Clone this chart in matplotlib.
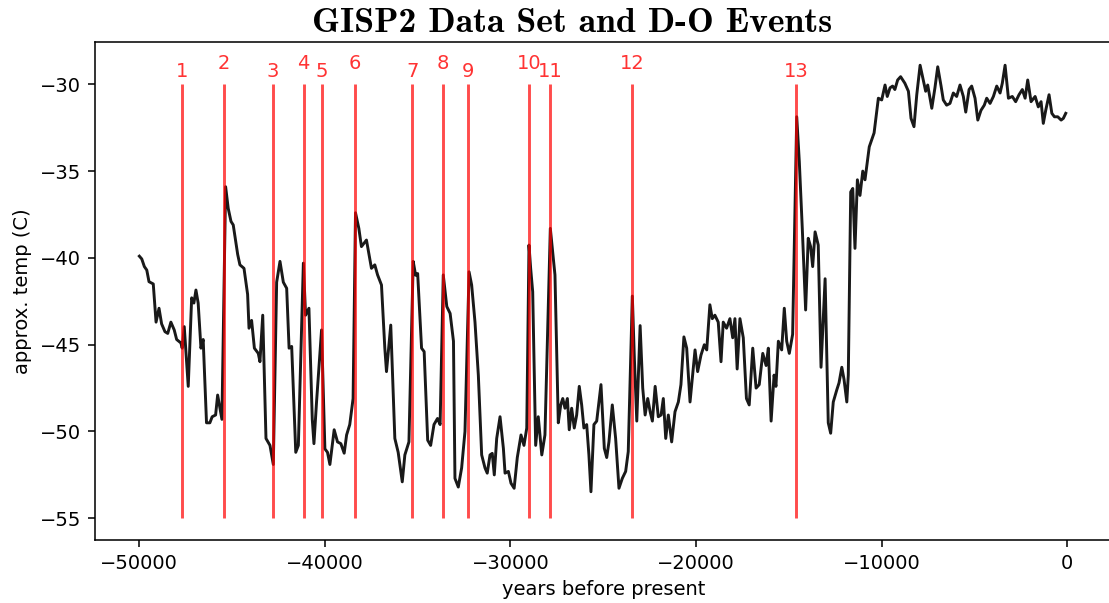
import matplotlib as mpl
mpl.use("Agg")
import matplotlib.pyplot as plt

# GISP2 temperature trace (years before present, deg C)
years = [
    -50000, -49870, -49730, -49600, -49480, -49250, -49100, -48940, -48800, -48620,
    -48470, -48300, -48120, -47990, -47760, -47690, -47580, -47365, -47180, -47060,
    -46950, -46830, -46680, -46560, -46380, -46200, -46075, -45890, -45780, -45550,
    -45350, -45210, -45060, -44940, -44700, -44580, -44360, -44165, -44090, -43950,
    -43800, -43590, -43500, -43350, -43175, -42960, -42780, -42600, -42420, -42240,
    -42060,
    -41930, -41790, -41570, -41430, -41160, -41040, -40860, -40680, -40590, -40450,
    -40180, -40000, -39860, -39730, -39500, -39320, -39140, -38960, -38830, -38660,
    -38480, -38350, -38170, -38030, -37760, -37490, -37310, -37160, -36950, -36770,
    -36680, -36450, -36230, -36050, -35830, -35690, -35470, -35240, -35110, -35000,
    -34790, -34650, -34460, -34300, -34120, -33930, -33790, -33620,
    -33430, -33250, -33070, -32990, -32810, -32630, -32450, -32230, -32090, -31910,
    -31730, -31550, -31370, -31250, -31100, -30980, -30870, -30740, -30560, -30380,
    -30290, -30110, -29970, -29800, -29630, -29430, -29270, -29120, -29000, -28910,
    -28800, -28640, -28500, -28310, -28140, -27850, -27600, -27420, -27290, -27180,
    -27060, -26930, -26830, -26700, -26560, -26430, -26290, -26160, -26040, -25890,
    -25770, -25660, -25500, -25350,
    -25120, -24940, -24810, -24690, -24510, -24330, -24150, -23970, -23790, -23650,
    -23430, -23320, -23190, -23010, -22870, -22740, -22600, -22470, -22350, -22200,
    -22030, -21880, -21760, -21630, -21490, -21310, -21130, -20950, -20810, -20650,
    -20500, -20320, -20180, -20050, -19910, -19730, -19550, -19420, -19250, -19120,
    -18980, -18800, -18650, -18530, -18350, -18170, -18020, -17900, -17780, -17630,
    -17450, -17280, -17130,
    -16940, -16760, -16590, -16400, -16220, -16100, -15950, -15790, -15690, -15560,
    -15380, -15240, -15110, -14970, -14790, -14570, -14430, -14270, -14090, -13950,
    -13820, -13710, -13580, -13410, -13260, -13040, -12870, -12740, -12600, -12410,
    -12290, -12140, -12020, -11870, -11790, -11660, -11550, -11430, -11300, -11160,
    -11010, -10890, -10660, -10400, -10170, -9990, -9810, -9690, -9540, -9400,
    -9280, -9130, -8970, -8740,
    -8550, -8410, -8250, -8100, -7920, -7750, -7620, -7510, -7290, -7120,
    -6970, -6790, -6670, -6490, -6310, -6130, -5950, -5770, -5590, -5460,
    -5280, -5140, -4960, -4810, -4640, -4460, -4330, -4150, -3970, -3790,
    -3610, -3490, -3340, -3160, -2950, -2770, -2590, -2410, -2260, -2120,
    -1940, -1720, -1550, -1400, -1280, -1150, -970, -820, -680, -500,
    -320, -200, -70,
]
temps = [
    -39.9, -40.06, -40.5, -40.7, -41.37, -41.5, -43.7, -42.9, -43.8, -44.25,
    -44.35, -43.7, -44.15, -44.7, -44.9, -45.2, -43.96, -47.4, -42.3, -42.6,
    -41.85, -42.6, -45.2, -44.7, -49.5, -49.5, -49.15, -49.05, -47.9, -49.3,
    -35.9, -37.15, -37.9, -38.1, -39.8, -40.4, -40.6, -42.1, -44.05, -43.6,
    -45.2, -45.5, -45.98, -43.3, -50.4, -50.8, -51.9, -41.4, -40.2, -41.4,
    -41.75,
    -45.2, -45.1, -51.2, -50.8, -40.3, -43.3, -42.9, -49.3, -50.7, -48.3,
    -44.15, -51.0, -51.2, -51.9, -49.9, -50.6, -50.7, -51.25, -50.2, -49.6,
    -48.1, -37.4, -38.3, -39.35, -38.97, -40.6, -40.4, -40.98, -41.56, -45.2,
    -46.55, -43.87, -50.4, -51.2, -52.9, -51.35, -50.6, -40.2, -41.0, -40.9,
    -45.2, -45.4, -50.5, -50.8, -49.6, -49.25, -49.6, -40.98,
    -42.8, -43.2, -44.8, -52.7, -53.2, -52.1, -50.0, -40.8, -41.56, -43.7,
    -46.75, -51.35, -52.1, -52.4, -51.35, -51.26, -52.5, -50.4, -49.15, -50.97,
    -52.4, -52.3, -52.98, -53.27, -51.5, -50.2, -50.8, -49.8, -39.26, -40.6,
    -41.95, -50.8, -49.15, -51.35, -50.2, -38.3, -40.98, -49.5, -48.47, -48.1,
    -48.66, -48.1, -49.9, -48.66, -49.8, -49.05, -47.4, -48.47, -49.8, -49.6,
    -51.35, -53.47, -49.6, -49.4,
    -47.3, -50.97, -51.5, -50.6, -48.47, -50.4, -53.27, -52.7, -52.3, -51.16,
    -42.2, -45.8, -49.4, -43.9, -47.5, -49.05, -48.1, -48.86, -49.4, -47.4,
    -49.15, -49.05, -48.1, -50.4, -49.05, -50.6, -48.86, -48.3, -47.3, -44.55,
    -45.2, -48.3, -46.75, -45.3, -46.55, -45.6, -45.0, -45.3, -42.7, -43.5,
    -43.3, -43.7, -45.98, -43.7, -44.05, -43.5, -44.6, -43.5, -46.4, -43.5,
    -44.6, -48.1, -48.47,
    -45.2, -47.5, -47.3, -45.5, -46.2, -45.2, -49.4, -46.75, -47.4, -44.8,
    -45.3, -42.9, -44.8, -45.5, -44.4, -31.87, -34.46, -38.3, -43.0, -38.87,
    -39.35, -40.5, -38.5, -39.26, -46.3, -41.2, -49.5, -50.1, -48.3, -47.6,
    -47.2, -46.3, -47.0, -48.3, -46.75, -36.2, -36.0, -39.45, -35.5, -36.4,
    -35.0, -35.5, -33.6, -32.8, -30.8, -30.9, -30.04, -30.7, -30.2, -30.1,
    -30.3, -29.75, -29.56, -29.94,
    -30.4, -31.96, -32.44, -30.6, -28.9, -29.75, -30.4, -30.04, -31.38, -30.2,
    -28.99, -30.1, -30.9, -31.2, -31.1, -30.5, -30.7, -30.04, -30.7, -31.6,
    -30.3, -30.1, -30.8, -32.06, -31.5, -31.2, -30.8, -31.1, -30.7, -30.1,
    -30.5, -29.94, -28.9, -30.8, -30.7, -31.0, -30.6, -30.3, -30.8, -29.75,
    -31.0, -30.7, -31.3, -31.0, -32.25, -31.5, -30.6, -31.67, -31.87, -31.87,
    -32.06, -31.96, -31.67,
]

# D-O event onsets
do_years = [-47700, -45450, -42800, -41150, -40150, -38400, -35300,
            -33650, -32300, -29000, -27850, -23450, -14600]
do_labels = [str(i + 1) for i in range(len(do_years))]

fig = plt.figure(figsize=(1109 / 140, 603 / 140), dpi=140)
ax = fig.add_axes([0.0855, 0.1045, 0.9185, 0.8259])

ax.plot(years, temps, color="k", alpha=0.9)
ax.vlines(do_years, -55, -30, colors="r", alpha=0.7)
for i, (yr, lab) in enumerate(zip(do_years, do_labels)):
    # alternate label heights so neighbours don't collide
    ax.text(yr, -29.6 if i % 2 == 0 else -29.1, lab, color="r", alpha=0.8,
            ha="center")

ax.set_xlim(-52400, 2500)
ax.set_ylim(-56.25, -27.56)
ax.set_xlabel("years before present")
ax.set_ylabel("approx. temp (C)")
ax.set_title("GISP2 Data Set and D-O Events", fontfamily="cmb10", fontsize=18.4,
             pad=5, x=0.469)

fig.savefig("out.png", dpi=140)
